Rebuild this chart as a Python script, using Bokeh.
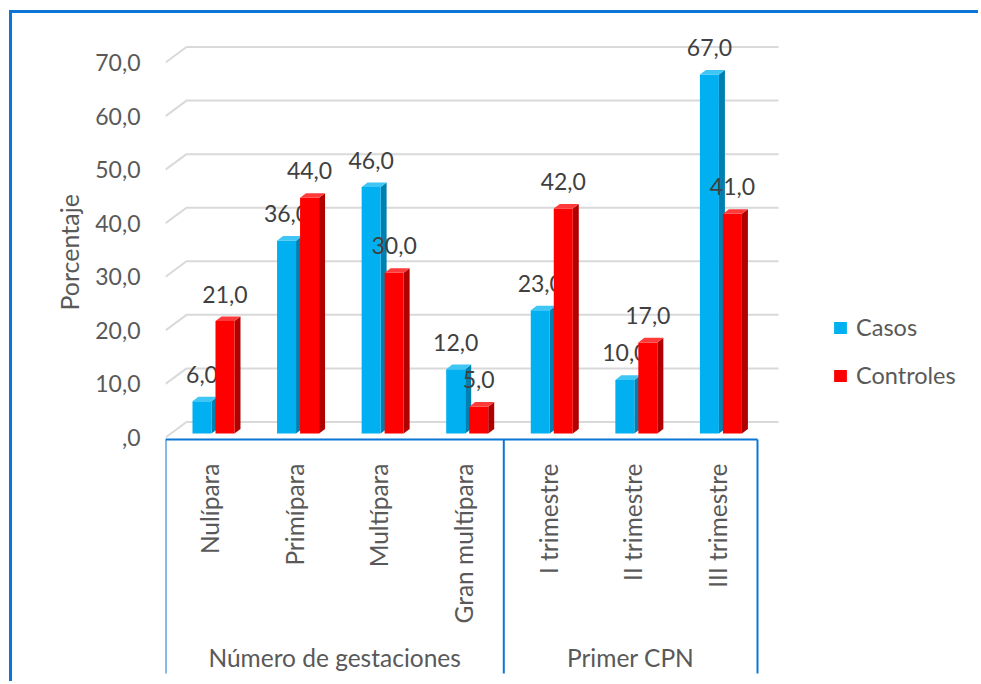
from bokeh.plotting import figure
from bokeh.models import Range1d, FixedTicker, Legend, LegendItem, Title
from bokeh.core.properties import value
from bokeh.embed import file_html
from bokeh.resources import INLINE

# ---------------- data ----------------
groups = ["Número de gestaciones", "Primer CPN"]
group_sizes = [4, 3]
categories = ["Nulípara", "Primípara", "Multípara", "Gran multípara",
              "I trimestre", "II trimestre", "III trimestre"]
casos = [6.0, 36.0, 46.0, 12.0, 23.0, 10.0, 67.0]
controles = [21.0, 44.0, 30.0, 5.0, 42.0, 17.0, 41.0]
y_ticks = [0, 10, 20, 30, 40, 50, 60, 70]
y_tick_labels = [",0", "10,0", "20,0", "30,0", "40,0", "50,0", "60,0", "70,0"]
series_names = ["Casos", "Controles"]

# ---------------- layout (page pixels) ----------------
ML, MT, BW = 9, 10, 3      # css margin and border
OX, OY = ML + BW, MT + BW  # canvas origin on page
W, H = 981 - OX, 684 - OY
FRAME_L, FRAME_T = 165, 14
FRAME_R, FRAME_B = OX + W, OY + H
ZERO_Y, TOP_Y = 437, 62    # page y of value 0 and of value 70 (front)
AX_R = 757                 # right end of category area
n = len(categories)
ppu_y = (ZERO_Y - TOP_Y) / 70.0
ppu_x = (AX_R - FRAME_L) / n
PX, PY = 1.0 / ppu_x, 1.0 / ppu_y

x_end = (FRAME_R - FRAME_L) * PX
y_start = -(FRAME_B - ZERO_Y) * PY
y_end = (ZERO_Y - FRAME_T) * PY

FONT = value("Lato")
TXT = "#595959"
BLUE_LINE = "#0B76D3"

p = figure(width=W, height=H, x_range=Range1d(0, x_end), y_range=Range1d(y_start, y_end),
           output_backend="svg", toolbar_location=None, x_axis_location=None,
           min_border_left=FRAME_L - OX, min_border_right=0,
           min_border_top=FRAME_T - OY, min_border_bottom=0)
p.outline_line_color = None
p.grid.visible = False
p.background_fill_color = "white"
p.border_fill_color = "white"
p.styles = {"border-left": f"{BW}px solid " + BLUE_LINE,
            "border-top": f"{BW}px solid " + BLUE_LINE,
            "margin-left": f"{ML}px", "margin-top": f"{MT}px"}

# y axis
ya = p.yaxis[0]
ya.ticker = FixedTicker(ticks=y_ticks)
ya.major_label_overrides = dict(zip(y_ticks, y_tick_labels))
ya.axis_line_color = None
ya.major_tick_line_color = None
ya.minor_tick_line_color = None
ya.major_tick_out = 0
ya.major_tick_in = 0
ya.major_label_standoff = 25
ya.major_label_text_font = "Lato"
ya.major_label_text_font_size = "23px"
ya.major_label_text_color = TXT

# axis title, centred on the 0..70 span (text starts at its lower end)
TITLE_LOW_END = 310
ytitle = Title(text="Porcentaje", align="left", offset=FRAME_B - TITLE_LOW_END,
               text_font="Lato", text_font_size="25px", text_font_style="normal",
               text_color=TXT, standoff=18)
p.add_layout(ytitle, "left")

# 3D back-wall gridlines
dxu, dyu = 21 * PX, 15.5 * PY
gx = [[0, dxu, n + dxu] for _ in y_ticks]
gy = [[v, v + dyu, v + dyu] for v in y_ticks]
p.multi_line(gx, gy, line_color="#D9D9D9", line_width=2)

# bars
base = 4 * PY
bw = 19 * PX
s, d = 6 * PX, 4.6 * PY
centers = [i + 0.5 for i in range(n)]
specs = [
    (casos, -15.3 * PX, "#00B0F0", "#0080B0", "#3FC6F5"),
    (controles, 7.7 * PX, "#FF0000", "#B00000", "#FF3A3A"),
]
front_renderers = []
for vals, off, cf, cs, ct in specs:
    x0 = [c + off for c in centers]
    x1 = [a + bw for a in x0]
    tops = [base + v for v in vals]
    side_x = [[b, b + s, b + s, b] for b in x1]
    side_y = [[base, base + d, t + d, t] for t in tops]
    top_x = [[a, a + s, b + s, b] for a, b in zip(x0, x1)]
    top_y = [[t, t + d, t + d, t] for t in tops]
    p.patches(side_x, side_y, fill_color=cs, line_color=None)
    r = p.quad(left=x0, right=x1, bottom=[base] * n, top=tops, fill_color=cf, line_color=None)
    p.patches(top_x, top_y, fill_color=ct, line_color=None)
    front_renderers.append(r)
    lx = [a + bw / 2 for a in x0]
    ly = [t + 27 * PY for t in tops]
    p.text(lx, ly, text=[f"{v:.1f}".replace(".", ",") for v in vals],
           text_font=FONT, text_font_size="23px", text_color="#404040",
           text_align="center", text_baseline="middle")

# category axis box
box_bottom = -(673 - ZERO_Y) * PY
box_top = -(439 - ZERO_Y) * PY
bounds = [0]
for g in group_sizes:
    bounds.append(bounds[-1] + g)
p.segment(x0=[0], y0=[box_top], x1=[n], y1=[box_top], line_color=BLUE_LINE, line_width=2)
p.segment(x0=bounds, y0=[box_top] * len(bounds), x1=bounds, y1=[box_bottom] * len(bounds),
          line_color=BLUE_LINE, line_width=2)

# category labels (rotated)
lab_top = -(463 - ZERO_Y) * PY
p.text([c + 2 * PX for c in centers], [lab_top] * n, text=categories, angle=1.5707963,
       text_font=FONT, text_font_size="24.5px", text_color=TXT,
       text_align="right", text_baseline="middle")

# group labels
gcx = [(bounds[i] + bounds[i + 1]) / 2 for i in range(len(groups))]
gly = -(657 - ZERO_Y) * PY
p.text(gcx, [gly] * len(groups), text=groups, text_font=FONT, text_font_size="24.5px",
       text_color=TXT, text_align="center", text_baseline="middle")

# legend
legend = Legend(items=[LegendItem(label=series_names[i], renderers=[front_renderers[i]])
                       for i in range(2)],
                location=(832 - FRAME_L, FRAME_B - 389))
legend.margin = 0
legend.padding = 0
legend.border_line_color = None
legend.background_fill_alpha = 0
legend.glyph_width = 16
legend.glyph_height = 15
legend.label_standoff = 8
legend.label_height = 24
legend.spacing = 20
legend.label_text_font = "Lato"
legend.label_text_font_size = "23.5px"
legend.label_text_color = TXT
p.add_layout(legend)

open("out.html", "w").write(file_html(p, INLINE))
